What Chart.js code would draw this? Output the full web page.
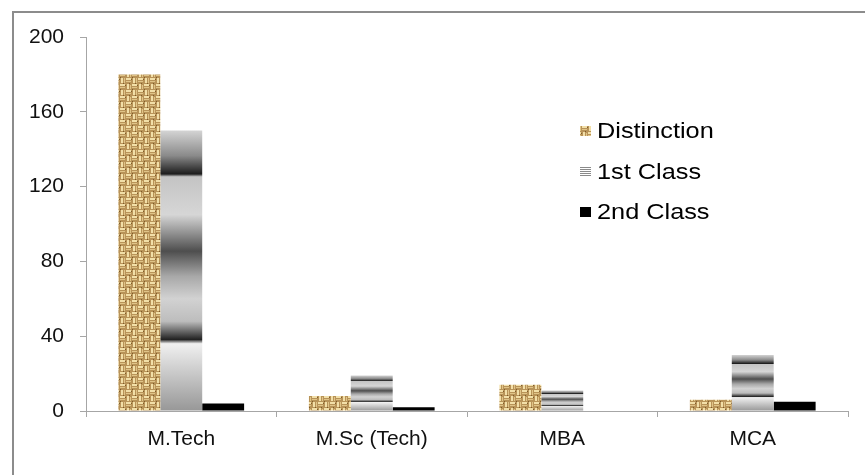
<!DOCTYPE html>
<html>
<head>
<meta charset="utf-8">
<script src="https://cdn.jsdelivr.net/npm/chart.js@4"></script>
<style>
	html, body { margin: 0; padding: 0; background: #fff; }
	#wrap { width: 865px; height: 475px; position: relative; }
</style>
</head>
<body>
<div id="wrap"><canvas id="chart"></canvas></div>
<script>
const categories = ['M.Tech', 'M.Sc (Tech)', 'MBA', 'MCA'];
const distinction = [180, 8, 14, 6];
const firstClass = [150, 19, 11, 30];
const secondClass = [4, 2, 0, 5];
const yMax = 200;
const yStep = 40;

const fontFamily = '"Liberation Sans", Arial, sans-serif';
const axisGrey = '#a6a6a6';

// burlap-like texture for Distinction
function makeBurlap() {
	const c = document.createElement('canvas');
	c.width = 12;
	c.height = 12;
	const g = c.getContext('2d');
	g.fillStyle = '#b89358';
	g.fillRect(0, 0, 12, 12);
	g.fillStyle = '#f2dfa8';
	g.fillRect(0, 0, 5, 2);
	g.fillRect(7, 0, 2, 5);
	g.fillRect(6, 6, 5, 2);
	g.fillRect(1, 6, 2, 5);
	g.fillStyle = '#e0c488';
	g.fillRect(0, 3, 5, 1);
	g.fillRect(10, 1, 1, 4);
	g.fillRect(6, 9, 5, 1);
	g.fillRect(4, 6, 1, 5);
	g.fillStyle = '#7d5c2b';
	g.fillRect(5, 1, 1, 1);
	g.fillRect(0, 5, 1, 1);
	g.fillRect(11, 7, 1, 1);
	g.fillRect(3, 11, 1, 1);
	g.fillRect(9, 11, 1, 1);
	return g.createPattern(c, 'repeat');
}

const ctx = document.getElementById('chart').getContext('2d');
const burlap = makeBurlap();

function stripeFill(context) {
	const chart = context.chart;
	if (!chart.chartArea || context.type !== 'data') return '#b0b0b0';
	const y = chart.scales.y;
	const top = y.getPixelForValue(context.raw);
	const bottom = y.getPixelForValue(0);
	if (bottom - top < 1) return '#b0b0b0';
	const gr = chart.ctx.createLinearGradient(0, top, 0, bottom);
	gr.addColorStop(0, '#d4d4d4');
	gr.addColorStop(0.09, '#8a8a8a');
	gr.addColorStop(0.155, '#1c1c1c');
	gr.addColorStop(0.165, '#c4c4c4');
	gr.addColorStop(0.3, '#d6d6d6');
	gr.addColorStop(0.43, '#4e4e4e');
	gr.addColorStop(0.52, '#a8a8a8');
	gr.addColorStop(0.6, '#d2d2d2');
	gr.addColorStop(0.68, '#bdbdbd');
	gr.addColorStop(0.745, '#222222');
	gr.addColorStop(0.76, '#f0f0f0');
	gr.addColorStop(1, '#979797');
	return gr;
}

const frame = {
	id: 'frame',
	beforeDraw(chart) {
		const g = chart.ctx;
		g.save();
		g.strokeStyle = '#8c8c8c';
		g.lineWidth = 2;
		g.beginPath();
		g.moveTo(13, 475);
		g.lineTo(13, 12);
		g.lineTo(865, 12);
		g.stroke();
		g.restore();
	}
};

const sideLegend = {
	id: 'sideLegend',
	afterDraw(chart) {
		const g = chart.ctx;
		const x = 580;
		const ys = [131, 172, 212];
		g.save();
		g.font = '22px ' + fontFamily;
		g.textBaseline = 'middle';
		chart.data.datasets.forEach((ds, i) => {
			const y = ys[i];
			if (i === 0) {
				g.fillStyle = burlap;
				g.fillRect(x, y - 5, 11, 10);
			} else if (i === 1) {
				g.fillStyle = '#fff';
				g.fillRect(x, y - 5, 11, 10);
				g.fillStyle = '#8a8a8a';
				for (let k = 0; k < 5; k++) g.fillRect(x, y - 5 + k * 2, 11, 1);
			} else {
				g.fillStyle = '#000';
				g.fillRect(x, y - 5, 11, 10);
			}
			g.fillStyle = '#000';
			// reference text runs a little wider than Arial
			g.save();
			g.translate(x + 17, y + 1);
			g.scale(1.15, 1);
			g.fillText(ds.label, 0, 0);
			g.restore();
		});
		g.restore();
	}
};

new Chart(ctx, {
	type: 'bar',
	data: {
		labels: categories,
		datasets: [
			{ label: 'Distinction', data: distinction, backgroundColor: burlap },
			{ label: '1st Class', data: firstClass, backgroundColor: stripeFill },
			{ label: '2nd Class', data: secondClass, backgroundColor: '#000000' },
		],
	},
	plugins: [frame, sideLegend],
	options: {
		responsive: true,
		maintainAspectRatio: false,
		animation: false,
		events: [],
		layout: {
			padding: { top: 37, right: 17, left: 0, bottom: 0 },
		},
		datasets: {
			bar: {
				categoryPercentage: 0.66,
				barPercentage: 1,
			},
		},
		plugins: {
			legend: { display: false },
			tooltip: { enabled: false },
		},
		scales: {
			x: {
				grid: {
					offset: true,
					drawOnChartArea: false,
					drawTicks: true,
					tickLength: 6,
					tickColor: axisGrey,
				},
				border: { display: true, color: axisGrey, width: 1 },
				ticks: {
					color: '#111',
					font: { family: fontFamily, size: 21 },
					padding: 10,
				},
				afterFit(scale) {
					scale.height = 64;
				},
			},
			y: {
				min: 0,
				max: yMax,
				grid: {
					drawOnChartArea: false,
					drawTicks: true,
					tickLength: 6,
					tickColor: axisGrey,
				},
				border: { display: true, color: axisGrey, width: 1 },
				ticks: {
					stepSize: yStep,
					color: '#111',
					font: { family: fontFamily, size: 21 },
					padding: 16,
				},
				afterFit(scale) {
					scale.width = 86;
				},
			},
		},
	},
});
</script>
</body>
</html>
